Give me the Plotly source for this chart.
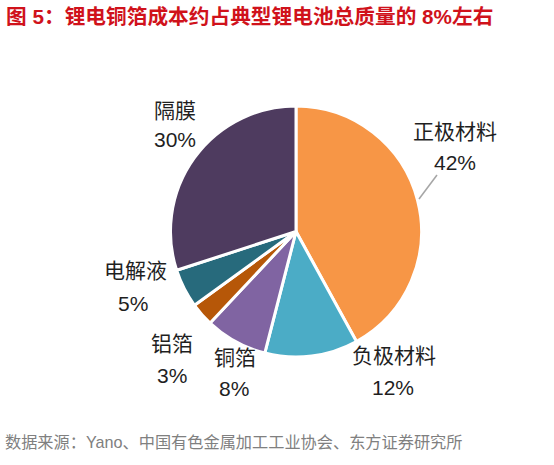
import plotly.graph_objects as go

W, H = 554, 465

categories = ['正极材料', '负极材料', '铜箔', '铝箔', '电解液', '隔膜']
shares = [42, 12, 8, 3, 5, 30]
slice_colors = ['#F79646', '#4BACC6', '#8064A2', '#B65708', '#276A7C', '#4E3B5F']

# label centres in pixels: (name x, name y, pct x, pct y)
label_pos = [
    (455, 131, 455, 162),
    (394, 355, 393, 387),
    (235, 357, 234, 388),
    (172, 343, 172, 375),
    (135, 270, 133, 303),
    (175, 110, 175, 140),
]

fnt = 'Liberation Sans, Arial, Noto Sans CJK SC'


def px(x):
    return x / W


def py(y):
    return 1 - y / H


fig = go.Figure(go.Pie(
    labels=categories,
    values=shares,
    marker=dict(colors=slice_colors, line=dict(color='white', width=3)),
    sort=False,
    direction='clockwise',
    rotation=0,
    textinfo='none',
    hoverinfo='label+percent',
    showlegend=False,
    domain=dict(x=[px(296 - 126), px(296 + 126)], y=[py(357), py(106)]),
))

tot = sum(shares)
for name, v, (nx, ny, qx, qy) in zip(categories, shares, label_pos):
    fig.add_annotation(x=px(nx), y=py(ny), xref='paper', yref='paper',
                       text=name, showarrow=False, xanchor='center', yanchor='middle',
                       font=dict(size=21, color='#1F1F1F', family=fnt))
    fig.add_annotation(x=px(qx), y=py(qy), xref='paper', yref='paper',
                       text=f'{round(v / tot * 100)}%', showarrow=False,
                       xanchor='center', yanchor='middle',
                       font=dict(size=21, color='#1F1F1F', family=fnt))

# leader line for 正极材料
fig.add_shape(type='line', xref='paper', yref='paper',
              x0=px(419), y0=py(199), x1=px(437), y1=py(175),
              line=dict(color='#A6A6A6', width=1.5))

# title and source
fig.add_annotation(x=px(4), y=py(16), xref='paper', yref='paper',
                   text='<b>图 5：锂电铜箔成本约占典型锂电池总质量的 8%左右</b>',
                   showarrow=False, xanchor='left', yanchor='middle',
                   font=dict(size=20.7, color='#D0121B', family=fnt))
fig.add_annotation(x=px(3), y=py(442), xref='paper', yref='paper',
                   text='数据来源：Yano、中国有色金属加工工业协会、东方证券研究所',
                   showarrow=False, xanchor='left', yanchor='middle',
                   font=dict(size=16.2, color='#808080', family=fnt))

fig.update_layout(width=W, height=H, margin=dict(l=0, r=0, t=0, b=0),
                  paper_bgcolor='white', plot_bgcolor='white')

# drop the browser's default page margin so the figure sits at the top-left corner
fig.write_html("out.html", config={'displayModeBar': False},
               post_script="document.body.style.margin='0';")
